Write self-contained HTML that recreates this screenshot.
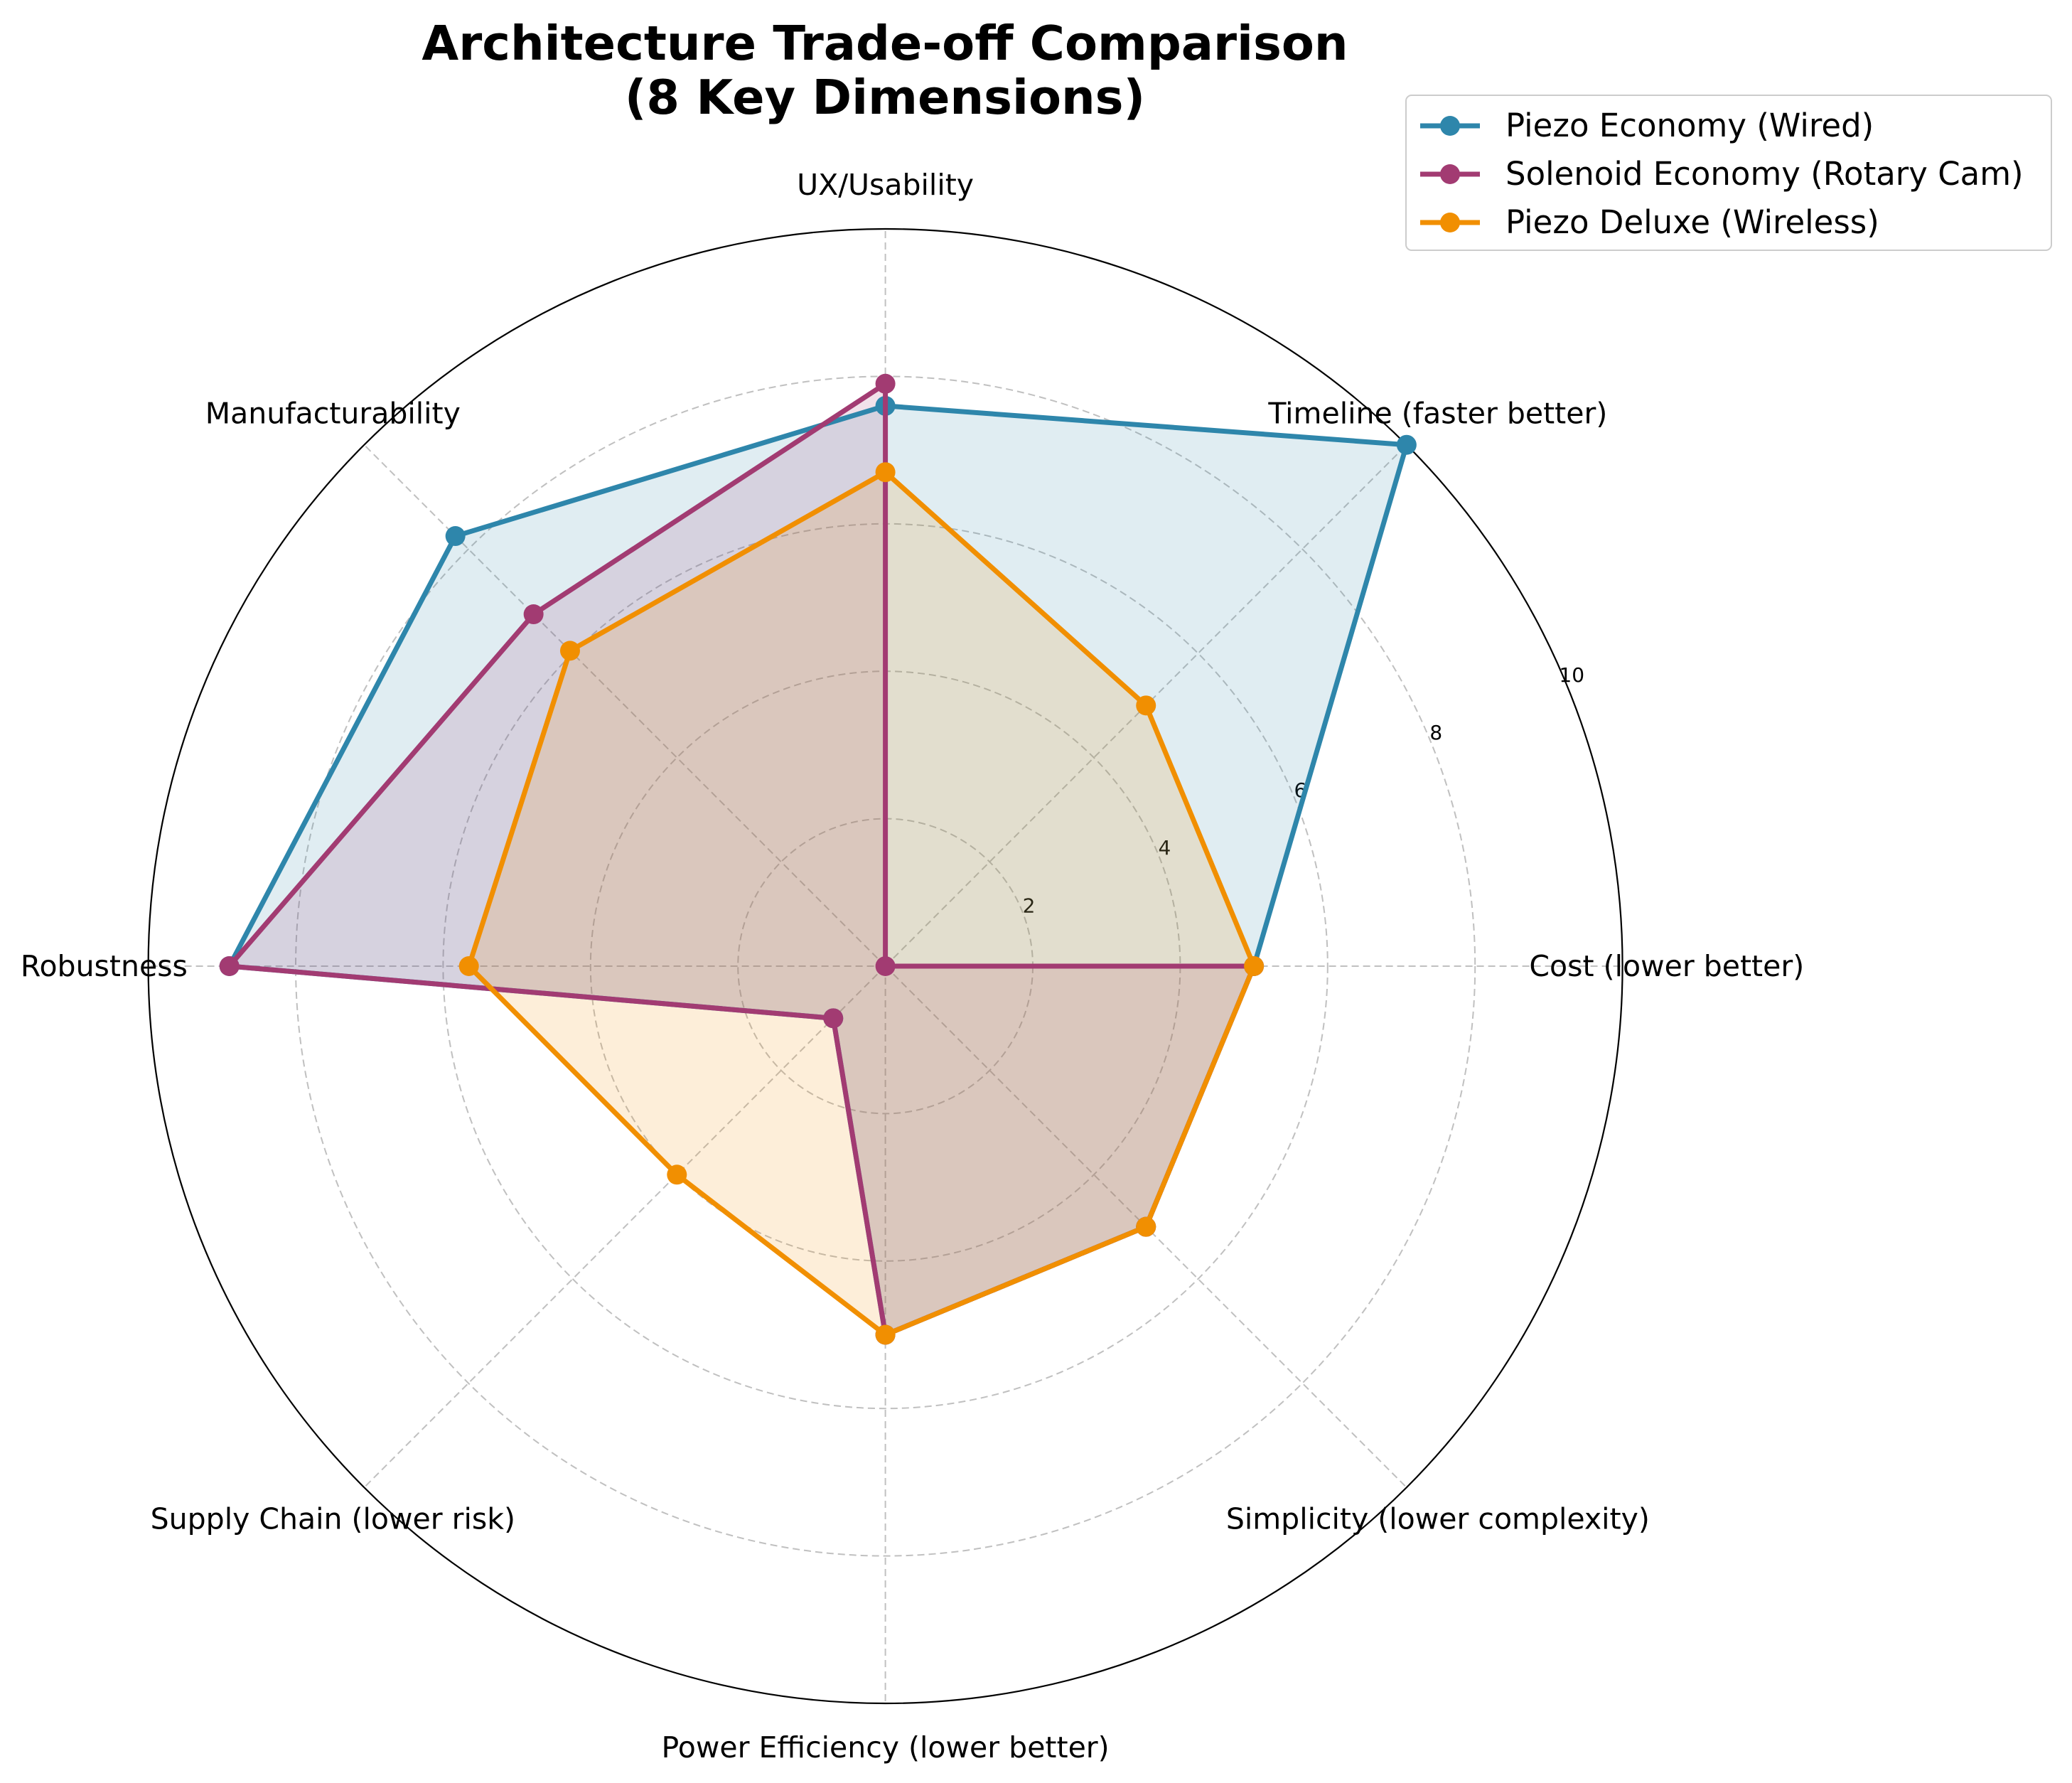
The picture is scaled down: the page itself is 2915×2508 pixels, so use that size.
<!DOCTYPE html>
<html><head><meta charset="utf-8"><style>
html,body{margin:0;padding:0;background:#fff;}
svg{display:block;font-family:"DejaVu Sans","Liberation Sans",sans-serif;}
</style></head><body>
<svg id="chart" width="2915" height="2508" viewBox="0 0 2915 2508" xmlns="http://www.w3.org/2000/svg">
<text x="1245" y="84" text-anchor="middle" font-size="67" font-weight="bold">Architecture Trade-off Comparison</text>
<text x="1245" y="160" text-anchor="middle" font-size="67" font-weight="bold">(8 Key Dimensions)</text>
<g id="grid"></g><g id="series"></g><g id="labels"></g>
<g id="legend"></g>
</svg>
<script>
const categories=["Cost (lower better)","Timeline (faster better)","UX/Usability","Manufacturability","Robustness","Supply Chain (lower risk)","Power Efficiency (lower better)","Simplicity (lower complexity)"];
const seriesNames=["Piezo Economy (Wired)","Solenoid Economy (Rotary Cam)","Piezo Deluxe (Wireless)"];
const piezoEconomy=[5,10,7.6,8.25,8.9,1,5,5];
const solenoidEconomy=[5,0,7.9,6.75,8.9,1,5,5];
const piezoDeluxe=[5,5,6.7,6.05,5.65,4,5,5];
const tickValues=[2,4,6,8,10];
const seriesData=[piezoEconomy,solenoidEconomy,piezoDeluxe];
const colors=["#2e86ab","#a23b72","#f18f01"];
const NS="http://www.w3.org/2000/svg";
const cx=1245.6,cy=1359,R=1037,maxV=10;
function rad(v){return v/maxV*R;}
function ang(i){return i*2*Math.PI/categories.length;}
function pt(i,v){return [cx+rad(v)*Math.cos(ang(i)),cy-rad(v)*Math.sin(ang(i))];}
function mk(tag,attrs,parent){const e=document.createElementNS(NS,tag);for(const k in attrs)e.setAttribute(k,attrs[k]);parent.appendChild(e);return e;}
const grid=document.getElementById('grid');
tickValues.forEach((t,k)=>{
  const c=mk('circle',{cx:cx,cy:cy,r:rad(t),fill:'none',stroke:t===maxV?'#000':'#c0c0c0','stroke-width':t===maxV?2.2:2,'stroke-dasharray':t===maxV?'none':'10,6'},grid);
  
  
  const a=23*Math.PI/180;
  const tx=mk('text',{x:cx+(rad(t)+12)*Math.cos(a),y:cy-(rad(t)+12)*Math.sin(a)+10,'text-anchor':'middle','font-size':28},grid);
  tx.textContent=t;
  
  
});
categories.forEach((c,i)=>{
  const p=pt(i,maxV);
  const l=mk('line',{x1:cx,y1:cy,x2:p[0],y2:p[1],stroke:'#c0c0c0','stroke-width':2,'stroke-dasharray':'10,6'},grid);
  
  
  const q=pt(i,10.6);
  const t=mk('text',{x:q[0],y:q[1]+14,'text-anchor':'middle','font-size':41},document.getElementById('labels'));
  t.textContent=c;
  
  
});
const sg=document.getElementById('series');
seriesData.forEach((d,s)=>{
  const pts=d.map((v,i)=>pt(i,v).join(',')).join(' ');
  const f=mk('polygon',{points:pts,fill:colors[s],'fill-opacity':0.15,stroke:'none'},sg);
  
  
});
seriesData.forEach((d,s)=>{
  const pts=d.map((v,i)=>pt(i,v).join(',')).join(' ');
  const l=mk('polygon',{points:pts,fill:'none',stroke:colors[s],'stroke-width':7,'stroke-linejoin':'round'},sg);
  
  
  d.forEach((v,i)=>{
    const p=pt(i,v);
    const m=mk('circle',{cx:p[0],cy:p[1],r:14,fill:colors[s]},sg);
    
    
  });
});
const lg=document.getElementById('legend');
const box=mk('rect',{x:1978,y:134,width:908,height:218,rx:8,fill:'#fff',stroke:'#ccc','stroke-width':2},lg);


seriesNames.forEach((n,s)=>{
  const y=177+s*68;
  const l=mk('line',{x1:1998,y1:y,x2:2082,y2:y,stroke:colors[s],'stroke-width':7},lg);
  
  
  const m=mk('circle',{cx:2040,cy:y,r:14,fill:colors[s]},lg);
  
  
  const t=mk('text',{x:2118,y:y+15,'font-size':45},lg);
  t.textContent=n;
  
  
});
</script>
</body></html>
